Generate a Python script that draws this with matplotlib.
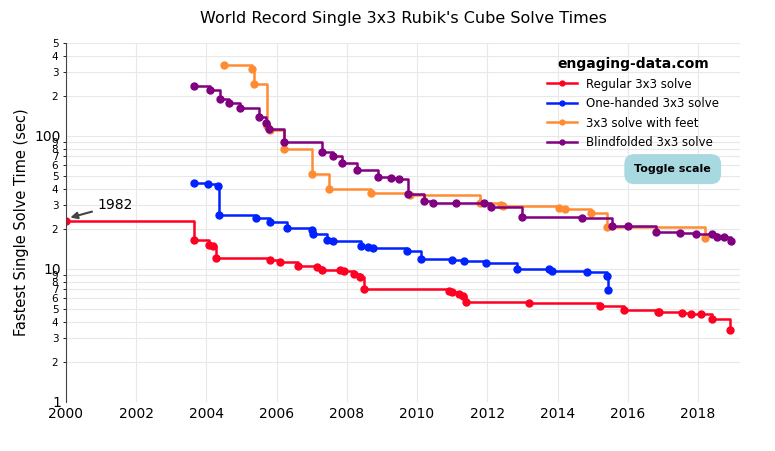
import matplotlib.pyplot as plt

# Record dates (decimal years) and times (seconds)
reg_x = [2000.0, 2003.65, 2004.08, 2004.2, 2004.28, 2005.8, 2006.1, 2006.6, 2007.15, 2007.3,
         2007.8, 2007.92, 2008.2, 2008.38, 2008.5, 2010.9, 2011.0, 2011.2, 2011.3, 2011.38,
         2013.2, 2015.2, 2015.9, 2016.85, 2016.9, 2017.55, 2017.8, 2018.1, 2018.4, 2018.9]
reg_y = [22.95, 16.53, 15.07, 14.76, 12.11, 11.75, 11.28, 10.48, 10.36, 9.86,
         9.77, 9.55, 9.18, 8.72, 7.08, 6.77, 6.65, 6.5, 6.24, 5.66,
         5.55, 5.25, 4.90, 4.74, 4.73, 4.69, 4.59, 4.59, 4.22, 3.47]

oh_x = [2003.65, 2004.05, 2004.32, 2004.36, 2005.4, 2005.8, 2006.3, 2007.0, 2007.05, 2007.45,
        2007.6, 2008.4, 2008.6, 2008.75, 2009.7, 2010.1, 2011.0, 2011.35, 2011.95, 2012.85,
        2013.75, 2013.85, 2014.85, 2015.4, 2015.45]
oh_y = [44.5, 43.5, 42.0, 25.5, 24.0, 22.5, 20.2, 19.6, 18.2, 16.6,
        16.1, 14.9, 14.6, 14.3, 13.6, 11.9, 11.6, 11.4, 11.0, 10.0,
        9.9, 9.6, 9.4, 8.9, 6.88]

feet_x = [2004.5, 2005.3, 2005.35, 2005.72, 2005.8, 2006.2, 2007.0, 2007.5, 2008.7, 2009.8,
          2011.8, 2012.4, 2012.45, 2014.05, 2014.2, 2014.95, 2015.4, 2018.2]
feet_y = [342, 320, 245, 118, 110, 80, 52, 40, 37, 36,
          31.5, 30, 29.5, 28.5, 28, 26.5, 20.6, 16.96]

bld_x = [2003.65, 2004.1, 2004.4, 2004.65, 2004.95, 2005.5, 2005.7, 2005.78, 2006.2, 2007.3,
         2007.6, 2007.85, 2008.3, 2008.9, 2009.25, 2009.5, 2009.75, 2010.2, 2010.45, 2011.1,
         2011.9, 2012.1, 2013.0, 2014.7, 2015.55, 2016.0, 2016.8, 2017.5, 2017.95, 2018.4,
         2018.55, 2018.75, 2018.95]
bld_y = [235, 220, 190, 178, 163, 138, 125, 112, 90, 76,
         70, 62, 55, 49, 48.5, 47, 36.5, 32.5, 31.5, 31.3,
         31, 29.3, 24.5, 24, 21, 21, 18.8, 18.6, 18.4, 18.2,
         17.5, 17.3, 16.3]

series = [
    ("Regular 3x3 solve", reg_x, reg_y, "#ff0022"),
    ("One-handed 3x3 solve", oh_x, oh_y, "#0022ff"),
    ("3x3 solve with feet", feet_x, feet_y, "#ff8c33"),
    ("Blindfolded 3x3 solve", bld_x, bld_y, "#800080"),
]

fig = plt.figure(figsize=(7.75, 4.51), dpi=100)
ax = fig.add_axes([0.085, 0.109, 0.87, 0.796])

for label, xs, ys, col in series:
    ax.step(xs, ys, where="post", color=col, lw=1.8, marker="o", ms=5, label=label)

ax.set_yscale("log")
ax.set_ylim(1, 500)
ax.set_xlim(2000, 2019.2)
ax.set_xticks(range(2000, 2019, 2))
ax.set_yticks([1, 10, 100])
ax.set_yticklabels(["1", "10", "100"], fontsize=10)
ax.set_yticks([2, 3, 4, 5, 6, 7, 8, 9, 20, 30, 40, 50, 60, 70, 80, 90, 200, 300, 400, 500], minor=True)
ax.set_yticklabels(["2", "3", "4", "5", "6", "7", "8", "9"] * 2 + ["2", "3", "4", "5"], minor=True, fontsize=7.5)
ax.tick_params(axis="both", length=0)
ax.tick_params(axis="x", labelsize=10)
ax.grid(True, which="both", color="#e8e8e8", lw=0.8)
for s in ["top", "right", "bottom"]:
    ax.spines[s].set_visible(False)
ax.spines["left"].set_color("#444444")
ax.set_axisbelow(True)

ax.set_ylabel("Fastest Single Solve Time (sec)", fontsize=10.5)
ax.set_title("World Record Single 3x3 Rubik's Cube Solve Times", fontsize=11.5, pad=14)

ax.annotate("1982", xy=(2000.05, 24), xytext=(2000.9, 28), fontsize=10,
            arrowprops=dict(arrowstyle="-|>", color="#444444", lw=1.5))

leg = ax.legend(loc="upper right", bbox_to_anchor=(0.985, 0.99), frameon=False, fontsize=8.5,
                handlelength=2.5, markerscale=0.7, labelspacing=0.55, title="engaging-data.com",
                title_fontproperties={"weight": "bold", "size": 10})
fig.text(0.868, 0.625, "Toggle scale", ha="center", va="center", fontsize=8, weight="bold",
         bbox=dict(boxstyle="round,pad=0.9", fc="#a8d8e0", ec="none"))

fig.savefig("out.png")
